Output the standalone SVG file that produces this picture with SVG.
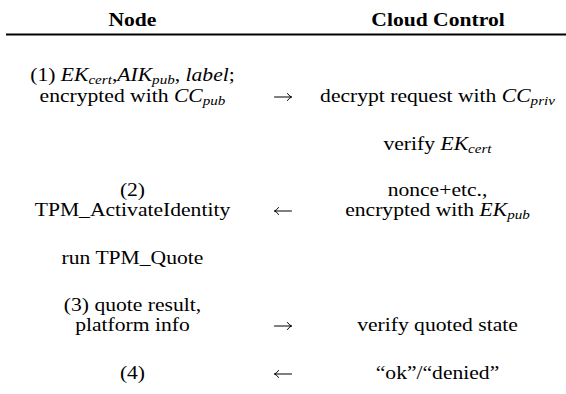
<svg xmlns="http://www.w3.org/2000/svg" width="566" height="394" viewBox="0 0 566 394">
  <style>
    text { font-family: "Liberation Serif", "Times New Roman", Times, serif; font-size: 18px; fill: #000; text-anchor: middle; }
    .hd { font-weight: bold; }
    .it { font-style: italic; }
    .sub { font-style: italic; font-size: 12.6px; }
    .arrow { fill: none; stroke: #000; stroke-width: 1; stroke-linecap: round; }
  </style>
  <rect width="566" height="394" fill="#fff"/>

  <!-- header rule -->
  <line x1="6" y1="34.5" x2="566" y2="34.5" stroke="#000" stroke-width="2"/>

  <!-- type is set 1.2x wider than tall; x values below are divided by 1.2 -->
  <g transform="scale(1.2 1)">
    <g id="header">
      <text class="hd" x="110.4" y="26">Node</text>
      <text class="hd" x="365" y="26">Cloud Control</text>
    </g>

    <g id="node-step1">
      <text x="110.4" y="81">(1) <tspan class="it">EK</tspan><tspan class="sub" dy="3">cert</tspan><tspan dy="-3">,</tspan><tspan class="it">AIK</tspan><tspan class="sub" dy="3">pub</tspan><tspan dy="-3">, </tspan><tspan class="it">label</tspan>;</text>
      <text x="110.4" y="102">encrypted with <tspan class="it">CC</tspan><tspan class="sub" dy="3">pub</tspan></text>
    </g>
    <g id="cc-step1">
      <text x="364.6" y="102">decrypt request with <tspan class="it">CC</tspan><tspan class="sub" dy="3">priv</tspan></text>
    </g>
    <g id="cc-verify">
      <text x="364.6" y="150">verify <tspan class="it">EK</tspan><tspan class="sub" dy="3">cert</tspan></text>
    </g>

    <g id="node-step2">
      <text x="110.4" y="196">(2)</text>
      <text x="110.4" y="216">TPM_ActivateIdentity</text>
    </g>
    <g id="cc-step2">
      <text x="364.6" y="196">nonce+etc.,</text>
      <text x="364.6" y="216">encrypted with <tspan class="it">EK</tspan><tspan class="sub" dy="3">pub</tspan></text>
    </g>
    <g id="node-quote">
      <text x="110.4" y="264">run TPM_Quote</text>
    </g>

    <g id="node-step3">
      <text x="110.4" y="311">(3) quote result,</text>
      <text x="110.4" y="331">platform info</text>
    </g>
    <g id="cc-step3">
      <text x="364.6" y="331">verify quoted state</text>
    </g>

    <g id="node-step4">
      <text x="110.4" y="379">(4)</text>
    </g>
    <g id="cc-step4">
      <text x="364.6" y="379">“ok”/“denied”</text>
    </g>
  </g>

  <!-- message direction arrows -->
  <g id="connectors" class="arrow">
    <path d="M274.5 97 H291.5 M287.5 93.5 Q289 96 291.5 97 Q289 98 287.5 100.5"/>
    <path d="M274.5 211 H291.5 M278.5 207.5 Q277 210 274.5 211 Q277 212 278.5 214.5"/>
    <path d="M274.5 326 H291.5 M287.5 322.5 Q289 325 291.5 326 Q289 327 287.5 329.5"/>
    <path d="M274.5 374 H291.5 M278.5 370.5 Q277 373 274.5 374 Q277 375 278.5 377.5"/>
  </g>
</svg>
